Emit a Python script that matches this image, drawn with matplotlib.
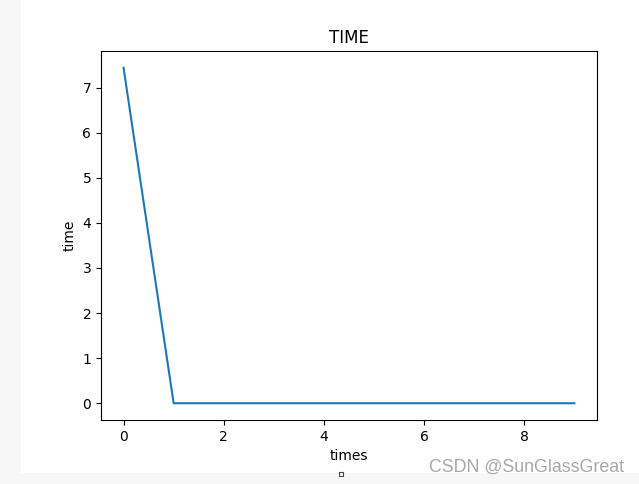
import numpy as np
import matplotlib
matplotlib.use("Agg")
import matplotlib.pyplot as plt
from matplotlib.patches import Rectangle

# values
times = list(range(10))
time_values = [7.44, 0.001, 0.001, 0.001, 0.001, 0.001, 0.001, 0.001, 0.001, 0.001]

fig = plt.figure(figsize=(6.39, 4.84), dpi=100, facecolor="#f7f7f7")

# white page area of the screenshot
fig.patches.append(Rectangle((21 / 639, 11.5 / 484), 1 - 21 / 639, 1 - 11.5 / 484,
                             transform=fig.transFigure, facecolor="white",
                             edgecolor="none", zorder=-5))

ax = fig.add_axes([101 / 639, 1 - 420 / 484, 496 / 639, 369 / 484])
ax.plot(times, time_values)
ax.set_title("TIME")
ax.set_xlabel("times")
ax.set_ylabel("time")

fig.text(624 / 639, 1 - 467 / 484, "CSDN @SunGlassGreat", ha="right", va="center",
         fontsize=12.8, color="#a8a8a8", family=["Liberation Sans", "DejaVu Sans"])
fig.patches.append(Rectangle((339 / 639, 1 - 476 / 484), 4 / 639, 4 / 484,
                             transform=fig.transFigure, facecolor="white",
                             edgecolor="#444444", linewidth=0.8, zorder=3))

fig.savefig("out.png", dpi=100, facecolor=fig.get_facecolor())
